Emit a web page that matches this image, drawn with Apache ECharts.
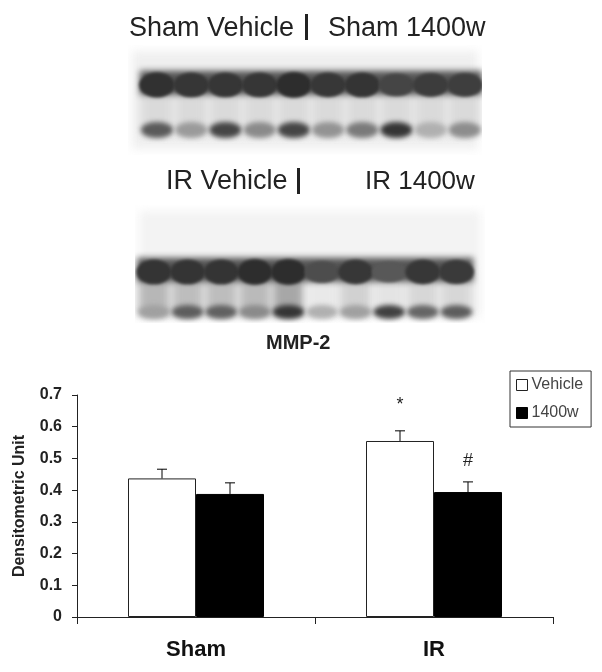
<!DOCTYPE html>
<html>
<head>
<meta charset="utf-8">
<style>html,body{margin:0;padding:0;background:#fff}#c{width:602px;height:672px}</style>
<script src="https://cdn.jsdelivr.net/npm/echarts@6/dist/echarts.min.js"></script>
</head>
<body>
<div id="c"></div>
<script>
const categories = ['Sham', 'IR'];
const vehicle = [0.437, 0.555];
const drug1400w = [0.388, 0.394];
const vehicleErrTop = [0.466, 0.587];
const drugErrTop = [0.423, 0.426];
const vehicleNote = ['', '*'];
const drugNote = ['', '#'];
const yTicks = [0, 0.1, 0.2, 0.3, 0.4, 0.5, 0.6, 0.7];

// Blot band densities per lane (decorative gel photographs)
const gel1Upper = [0.95, 0.9, 0.9, 0.9, 1, 0.88, 0.92, 0.72, 0.82, 0.8];
const gel1Lower = [0.72, 0.32, 0.85, 0.42, 0.85, 0.36, 0.52, 0.95, 0.18, 0.4];
const gel2Upper = [0.92, 0.92, 0.92, 1, 1, 0.62, 0.88, 0.5, 0.88, 0.85];
const gel2Lower = [0.28, 0.7, 0.68, 0.42, 0.95, 0.18, 0.28, 0.88, 0.65, 0.7];
const gel2Smear = [0.42, 0.38, 0.38, 0.4, 0.55, 0.04, 0.22, 0.08, 0.18, 0.18];

function makeGel(w, h, bg, upper, lower, smear, upY, lowY, laneStart, laneStep, upRy, lowRy) {
  const cv = document.createElement('canvas');
  cv.width = w; cv.height = h;
  const g = cv.getContext('2d');
  g.fillStyle = '#ffffff'; g.fillRect(0, 0, w, h);
  g.filter = 'blur(5px)';
  g.fillStyle = bg;
  g.fillRect(4, 6, w - 8, h - 12);
  g.filter = 'blur(4px)';
  upper.forEach((v, i) => {
    const x = laneStart + i * laneStep;
    const s = smear ? Math.round(238 - 130 * smear[i]) : 218;
    g.fillStyle = `rgb(${s},${s},${s})`;
    g.fillRect(x - laneStep * 0.46, upY, laneStep * 0.92, lowY - upY + 4);
  });
  // continuous dark backing of the upper band
  g.filter = 'blur(3px)';
  g.fillStyle = 'rgb(85,85,85)';
  g.fillRect(laneStart - laneStep * 0.5, upY - upRy * 0.75, laneStep * upper.length, upRy * 1.6);
  g.filter = 'blur(1.8px)';
  upper.forEach((v, i) => {
    const x = laneStart + i * laneStep;
    const c = Math.round(130 - 85 * v);
    g.fillStyle = `rgb(${c},${c},${c})`;
    g.beginPath();
    g.ellipse(x, upY + 3, laneStep * 0.52, upRy * (0.6 + 0.4 * v) * 0.85, 0, 0, Math.PI * 2);
    g.fill();
  });
  g.filter = 'blur(2.5px)';
  lower.forEach((v, i) => {
    const x = laneStart + i * laneStep;
    const c = Math.round(205 - 160 * v);
    g.fillStyle = `rgb(${c},${c},${c})`;
    g.beginPath();
    g.ellipse(x, lowY, laneStep * 0.47, lowRy, 0, 0, Math.PI * 2);
    g.fill();
  });
  return cv;
}

const gelTop = makeGel(354, 110, '#efefef', gel1Upper, gel1Lower, null, 37, 85, 29, 34.2, 15, 8);
const gelBottom = makeGel(350, 118, '#f3f3f3', gel2Upper, gel2Lower, gel2Smear, 64, 107, 19, 33.6, 15, 7);

const chart = echarts.init(document.getElementById('c'), null, { renderer: 'canvas' });
const sans = '"Liberation Sans", Arial, sans-serif';
const BAR = 68;

function errorSeries(name, errTop, notes, side, noteGap) {
  return {
    type: 'custom',
    name,
    z: 3,
    silent: true,
    data: errTop.map((v, i) => [i, v, notes[i]]),
    encode: { x: 0, y: 1 },
    renderItem(params, api) {
      const idx = api.value(0);
      const top = api.coord([idx, api.value(1)]);
      const base = api.coord([idx, side < 0 ? vehicle[idx] : drug1400w[idx]]);
      const x = top[0] + side * BAR / 2;
      const children = [
        { type: 'line', shape: { x1: x, y1: base[1], x2: x, y2: top[1] }, style: { stroke: '#000', lineWidth: 1 } },
        { type: 'line', shape: { x1: x - 5, y1: top[1], x2: x + 5, y2: top[1] }, style: { stroke: '#000', lineWidth: 1 } }
      ];
      const note = notes[idx];
      if (note) {
        children.push({
          type: 'text',
          style: {
            text: note, x, y: top[1] - noteGap, align: 'center', verticalAlign: 'middle',
            font: '18px ' + sans, fill: '#222'
          }
        });
      }
      return { type: 'group', children };
    }
  };
}

chart.setOption({
  animation: false,
  backgroundColor: '#fff',
  grid: { left: 77, right: 49, top: 395, bottom: 55, containLabel: false },
  legend: {
    left: 510, top: 371, orient: 'vertical',
    data: [
      { name: 'Vehicle', itemStyle: { borderWidth: 1, borderColor: '#222' } },
      { name: '1400w', itemStyle: { borderWidth: 1, borderColor: '#000' } }
    ],
    backgroundColor: '#fff',
    borderColor: '#333', borderWidth: 1, padding: [6, 8, 6, 6],
    itemWidth: 11, itemHeight: 11, itemGap: 12,
    icon: 'rect',
    textStyle: { fontFamily: sans, fontSize: 16, color: '#444', padding: [0, 0, 0, -1] }
  },
  xAxis: {
    type: 'category', data: categories,
    axisLine: { lineStyle: { color: '#222', width: 1 } },
    axisTick: { show: true, length: 7, alignWithLabel: false, lineStyle: { color: '#222' } },
    axisLabel: { fontFamily: sans, fontSize: 22, fontWeight: 'bold', color: '#111', margin: 22 }
  },
  yAxis: {
    type: 'value', min: 0, max: 0.7, interval: 0.1,
    name: 'Densitometric Unit', nameLocation: 'middle', nameRotate: 90, nameGap: 49,
    nameTextStyle: { fontFamily: sans, fontSize: 16, fontWeight: 'bold', color: '#222' },
    splitLine: { show: false },
    axisLine: { show: true, lineStyle: { color: '#222', width: 1 } },
    axisTick: { show: true, length: 5, lineStyle: { color: '#222' } },
    axisLabel: {
      fontFamily: sans, fontSize: 16, fontWeight: 'bold', color: '#222', margin: 15,
      formatter: v => (yTicks.includes(+v.toFixed(1)) ? String(+v.toFixed(1)) : '')
    }
  },
  series: [
    { name: 'Vehicle', type: 'bar', data: vehicle, barWidth: BAR, barGap: '0%',
      itemStyle: { color: '#fff', borderColor: '#222', borderWidth: 1 } },
    { name: '1400w', type: 'bar', data: drug1400w, barWidth: BAR, barGap: '0%',
      itemStyle: { color: '#000', borderColor: '#000', borderWidth: 1 } },
    errorSeries('VehicleErr', vehicleErrTop, vehicleNote, -1, 26),
    errorSeries('DrugErr', drugErrTop, drugNote, 1, 21)
  ],
  graphic: [
    { type: 'image', left: 128, top: 45, z: -1, style: { image: gelTop, width: 354, height: 110 } },
    { type: 'image', left: 135, top: 205, z: -1, style: { image: gelBottom, width: 350, height: 118 } },
    { type: 'text', left: 129, top: 15, style: { text: 'Sham Vehicle', font: '27px ' + sans, fill: '#222' } },
    { type: 'rect', left: 305, top: 14, shape: { width: 3, height: 26 }, style: { fill: '#222' } },
    { type: 'text', left: 328, top: 15, style: { text: 'Sham 1400w', font: '27px ' + sans, fill: '#222' } },
    { type: 'text', left: 166, top: 168, style: { text: 'IR Vehicle', font: '27px ' + sans, fill: '#222' } },
    { type: 'rect', left: 297, top: 168, shape: { width: 3, height: 26 }, style: { fill: '#222' } },
    { type: 'text', left: 365, top: 169, style: { text: 'IR 1400w', font: '26px ' + sans, fill: '#222' } },
    { type: 'text', left: 266, top: 333, style: { text: 'MMP-2', font: 'bold 20px ' + sans, fill: '#222' } }
  ]
});
</script>
</body>
</html>
